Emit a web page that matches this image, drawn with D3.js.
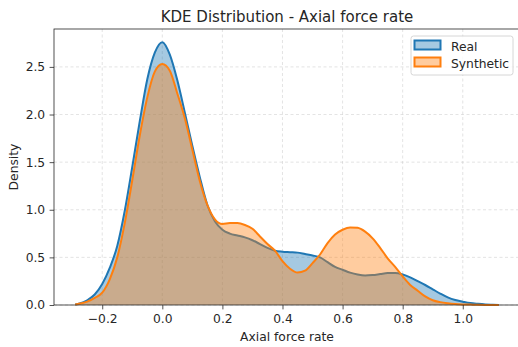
<!DOCTYPE html>
<html>
<head>
<meta charset="utf-8">
<script src="https://cdn.jsdelivr.net/npm/d3@7"></script>
<style>
  html, body { margin: 0; padding: 0; background: #fff; }
  svg { display: block; font-family: "DejaVu Sans", sans-serif; }
</style>
</head>
<body>
<svg id="chart" width="518" height="347"></svg>
<script>
// Evaluation grid for the density curves
const xGrid = [-0.29, -0.275, -0.25, -0.225, -0.2, -0.175, -0.15, -0.125, -0.1, -0.075,
  -0.05, -0.025, 0, 0.025, 0.05, 0.075, 0.1, 0.125, 0.15, 0.175,
  0.2, 0.225, 0.25, 0.275, 0.3, 0.325, 0.35, 0.375, 0.4, 0.425,
  0.45, 0.475, 0.5, 0.525, 0.55, 0.575, 0.6, 0.625, 0.65, 0.675,
  0.7, 0.725, 0.75, 0.775, 0.8, 0.825, 0.85, 0.875, 0.9, 0.925,
  0.95, 0.975, 1.0, 1.025, 1.05, 1.075, 1.1, 1.12];

// Kernel density estimate of the real data
const realDensity = [0.005, 0.015, 0.05, 0.11, 0.22, 0.39, 0.62, 0.99, 1.45, 1.93,
  2.37, 2.65, 2.76, 2.63, 2.36, 2.02, 1.67, 1.34, 1.05, 0.88,
  0.79, 0.75, 0.73, 0.71, 0.68, 0.64, 0.60, 0.57, 0.56, 0.555,
  0.55, 0.535, 0.52, 0.50, 0.45, 0.40, 0.37, 0.34, 0.32, 0.31,
  0.315, 0.325, 0.335, 0.335, 0.32, 0.29, 0.25, 0.21, 0.165, 0.12,
  0.08, 0.052, 0.035, 0.02, 0.012, 0.006, 0.003, 0.001];

// Kernel density estimate of the synthetic data
const synthDensity = [0.005, 0.015, 0.035, 0.075, 0.13, 0.27, 0.50, 0.86, 1.31, 1.78,
  2.18, 2.45, 2.53, 2.46, 2.22, 1.96, 1.63, 1.30, 1.05, 0.90,
  0.85, 0.86, 0.86, 0.84, 0.80, 0.72, 0.64, 0.57, 0.46, 0.38,
  0.34, 0.36, 0.44, 0.53, 0.65, 0.74, 0.79, 0.815, 0.81, 0.77,
  0.70, 0.60, 0.49, 0.40, 0.30, 0.21, 0.15, 0.09, 0.05, 0.03,
  0.018, 0.01, 0.006, 0.004, 0.002, 0.001, 0.0005, 0.0];

const seriesNames = ["Real", "Synthetic"];
const seriesColors = ["#1f77b4", "#ff7f0e"];
const xTicks = [-0.2, 0.0, 0.2, 0.4, 0.6, 0.8, 1.0];
const yTicks = [0.0, 0.5, 1.0, 1.5, 2.0, 2.5];

const svg = d3.select("#chart");
const plotL = 54, plotR = 520, plotT = 29, plotB = 305;
const labelSize = 12.3;

const x = d3.scaleLinear().domain([-0.3605, 1.1905]).range([plotL, plotR]);
const y = d3.scaleLinear().domain([0, 2.898]).range([plotB, plotT]);

// Grid
const grid = svg.append("g");
grid.selectAll("line.vx").data(xTicks).join("line")
  .attr("x1", d => x(d)).attr("x2", d => x(d))
  .attr("y1", plotT).attr("y2", plotB)
  .attr("stroke", "#b0b0b0").attr("stroke-opacity", 0.45)
  .attr("stroke-width", 0.8).attr("stroke-dasharray", "3,2.5");
grid.selectAll("line.hy").data(yTicks).join("line")
  .attr("x1", plotL).attr("x2", plotR)
  .attr("y1", d => y(d)).attr("y2", d => y(d))
  .attr("stroke", "#b0b0b0").attr("stroke-opacity", 0.45)
  .attr("stroke-width", 0.8).attr("stroke-dasharray", "3,2.5");

// Density curves
const series = [realDensity, synthDensity];
const area = d3.area().x(d => x(d[0])).y0(y(0)).y1(d => y(d[1])).curve(d3.curveMonotoneX);
const line = d3.line().x(d => x(d[0])).y(d => y(d[1])).curve(d3.curveMonotoneX);

series.forEach((vals, i) => {
  const pts = xGrid.map((xv, j) => [xv, vals[j]]);
  svg.append("path").datum(pts).attr("d", area)
    .attr("fill", seriesColors[i]).attr("fill-opacity", 0.4);
  svg.append("path").datum(pts).attr("d", line)
    .attr("fill", "none").attr("stroke", seriesColors[i]).attr("stroke-width", 2)
    .attr("stroke-linejoin", "round");
});

// Axes
const xAxis = d3.axisBottom(x).tickValues(xTicks)
  .tickFormat(d => d3.format(".1f")(d).replace("-", "\u2212"))
  .tickSizeOuter(0).tickSize(4.4).tickPadding(5);
const yAxis = d3.axisLeft(y).tickValues(yTicks).tickFormat(d3.format(".1f"))
  .tickSizeOuter(0).tickSize(4.4).tickPadding(4.4);

const gx = svg.append("g").attr("transform", `translate(0,${plotB})`).call(xAxis);
const gy = svg.append("g").attr("transform", `translate(${plotL},0)`).call(yAxis);
[gx, gy].forEach(g => {
  g.selectAll("text").attr("font-size", labelSize).attr("fill", "#262626")
    .attr("font-family", "DejaVu Sans, sans-serif");
  g.selectAll("line").attr("stroke", "#262626").attr("stroke-width", 0.8);
  g.select(".domain").remove();
});

// Frame
svg.append("rect").attr("x", plotL).attr("y", plotT)
  .attr("width", plotR - plotL).attr("height", plotB - plotT)
  .attr("fill", "none").attr("stroke", "#262626").attr("stroke-width", 0.8);

// Titles
svg.append("text").attr("x", (plotL + plotR) / 2).attr("y", 21.5)
  .attr("text-anchor", "middle").attr("font-size", 15).attr("fill", "#262626")
  .text("KDE Distribution - Axial force rate");
svg.append("text").attr("x", (plotL + plotR) / 2).attr("y", 341)
  .attr("text-anchor", "middle").attr("font-size", labelSize).attr("fill", "#262626")
  .text("Axial force rate");
svg.append("text").attr("transform", `translate(18,${(plotT + plotB) / 2}) rotate(-90)`)
  .attr("text-anchor", "middle").attr("font-size", labelSize).attr("fill", "#262626")
  .text("Density");

// Legend
const lg = svg.append("g").attr("transform", "translate(411,36)");
lg.append("rect").attr("width", 102).attr("height", 39).attr("rx", 2.5)
  .attr("fill", "#fff").attr("fill-opacity", 0.8)
  .attr("stroke", "#cccccc").attr("stroke-width", 0.8);
seriesNames.forEach((name, i) => {
  const row = lg.append("g").attr("transform", `translate(0,${i * 17})`);
  row.append("rect").attr("x", 3.5).attr("y", 4.5).attr("width", 26).attr("height", 9)
    .attr("fill", seriesColors[i]).attr("fill-opacity", 0.4)
    .attr("stroke", seriesColors[i]).attr("stroke-width", 2);
  row.append("text").attr("x", 40).attr("y", 14.5).attr("font-size", labelSize)
    .attr("fill", "#262626").text(name);
});
</script>
</body>
</html>
